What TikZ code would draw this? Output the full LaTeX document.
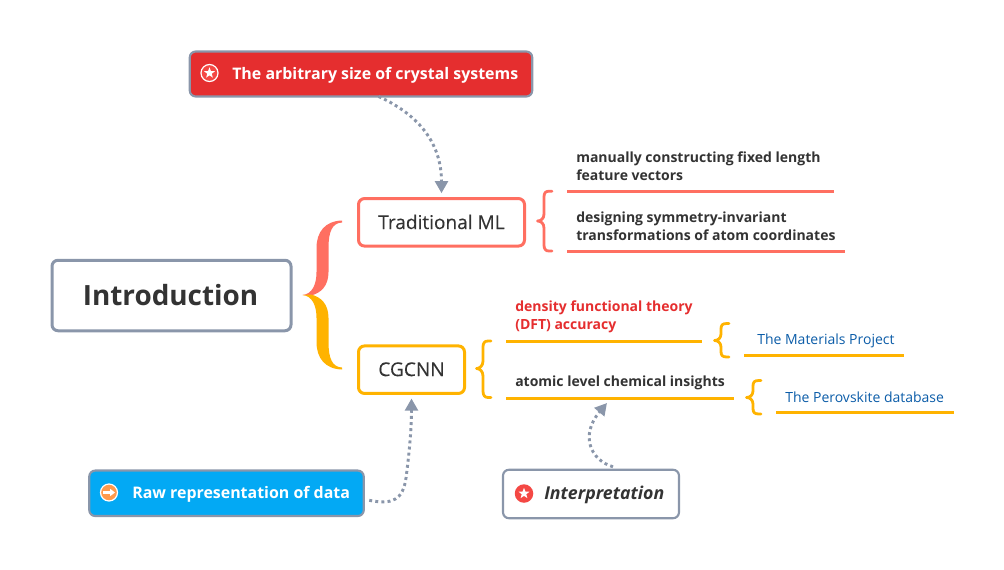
\documentclass[tikz,border=0pt]{standalone}
\usepackage{fontspec}
\setmainfont{Open Sans}
\newfontfamily\medfont[FakeBold=0.25]{Open Sans}
\usetikzlibrary{arrows.meta,shapes.geometric}
\definecolor{slateb}{HTML}{8A96AA}
\definecolor{coral}{HTML}{FF6F61}
\definecolor{amber}{HTML}{FFB300}
\definecolor{redf}{HTML}{E52E2F}
\definecolor{bluef}{HTML}{03A9F4}
\definecolor{inkc}{HTML}{333333}
\definecolor{linkb}{HTML}{0B5CA8}
\definecolor{iconred}{HTML}{F44844}
\definecolor{iconorange}{HTML}{FF9A4D}
\def\px{0.75pt}
\tikzset{
 x=0.75pt,y=-0.75pt,
 boxn/.style={draw,rounded corners=4.5pt,line width=2.25pt,inner sep=0pt,outer sep=0pt,anchor=center,text=inkc},
 thinbox/.style={boxn,line width=1.6pt},
 labeltxt/.style={font=\fontsize{10.5}{13.5}\selectfont\bfseries,text=inkc,anchor=west,align=left,inner sep=0pt},
 linktxt/.style={font=\fontsize{10.5}{13.5}\selectfont,text=linkb,anchor=west,inner sep=0pt},
 dots/.style={draw=slateb,line width=2.2pt,dash pattern=on 2.2pt off 2.4pt,-{Triangle[length=9pt,width=9.5pt,fill=slateb]}},
 ul/.style={line width=2.25pt},
 brace/.style={line width=2.1pt,line join=round,line cap=round},
 icondisc/.style={circle,inner sep=0pt,outer sep=0pt,minimum size=17*\px},
 iconstar/.style={star,star points=5,star point ratio=2.4,fill=white,draw=none,inner sep=0pt,outer sep=0pt,minimum size=11.5*\px}
}
\begin{document}
\begin{tikzpicture}
\useasboundingbox (0,0) rectangle (1004,569);
% big brace
\fill[coral] (342,220.5) .. controls (325,221) and (316.5,232) .. (316.5,248) -- (316.5,272)
  .. controls (316.5,285) and (312,294) .. (302.5,295) -- (311,295.5)
  .. controls (321,293) and (328.5,286) .. (328.5,272) -- (328.5,248)
  .. controls (328.5,232) and (332,223) .. (342,222.5) -- cycle;
\fill[amber] (342,369.5) .. controls (325,369) and (316.5,358) .. (316.5,342) -- (316.5,318)
  .. controls (316.5,305) and (312,296) .. (302.5,295) -- (311,294.5)
  .. controls (321,297) and (328.5,304) .. (328.5,318) -- (328.5,342)
  .. controls (328.5,358) and (332,367) .. (342,367.5) -- cycle;
% small braces
\draw[brace,coral] (552,191.2) -- (549,191.2) .. controls (545.5,191.2) and (544,193) .. (544,197) -- (544,214)
  .. controls (544,218.5) and (541,221) .. (537.5,221) .. controls (541,221) and (544,223.5) .. (544,228) -- (544,245)
  .. controls (544,249) and (545.5,251) .. (549,251) -- (552,251);
\draw[brace,amber] (491,341) -- (488,341) .. controls (484.5,341) and (483,343) .. (483,347) -- (483,361)
  .. controls (483,365.5) and (480,368.5) .. (476.5,368.5) .. controls (480,368.5) and (483,371.5) .. (483,376) -- (483,391)
  .. controls (483,395) and (484.5,397.5) .. (488,397.5) -- (491,397.5);
\draw[brace,amber] (729,323.5) -- (727,323.5) .. controls (722.5,323.5) and (721,325) .. (721,329) -- (721,334)
  .. controls (721,338) and (718,340.5) .. (714.5,340.5) .. controls (718,340.5) and (721,343) .. (721,347) -- (721,351.5)
  .. controls (721,355.5) and (722.5,357) .. (727,357) -- (729,357);
\draw[brace,amber] (761,380.5) -- (759,380.5) .. controls (754.5,380.5) and (753,382) .. (753,386) -- (753,391)
  .. controls (753,395) and (750,397.5) .. (746.5,397.5) .. controls (750,397.5) and (753,400) .. (753,404) -- (753,408.5)
  .. controls (753,412.5) and (754.5,414) .. (759,414) -- (761,414);
% underlines
\draw[ul,coral] (567,191) -- (834,191);
\draw[ul,coral] (567,251) -- (845,251);
\draw[ul,amber] (506,341) -- (702,341);
\draw[ul,amber] (506,398) -- (734,398);
\draw[ul,amber] (744,355) -- (904,355);
\draw[ul,amber] (776,412) -- (954,412);
% boxes
\node[boxn,draw=slateb,fill=white,minimum width=239*\px,minimum height=70.5*\px,font=\fontsize{20.9}{25}\selectfont\bfseries] (intro) at (171.5,295.5) {\raisebox{0.5pt}{\hspace{-1.5pt}Introduction}};
\node[thinbox,draw=slateb,fill=redf,minimum width=342.5*\px,minimum height=45*\px] (topbox) at (361,74) {};
\node[boxn,draw=coral,fill=white,minimum width=166*\px,minimum height=47.5*\px,font=\fontsize{14.3}{17}\selectfont\medfont] (tradml) at (441.5,222.3) {\raisebox{0.8pt}{Traditional ML}};
\node[boxn,draw=amber,fill=white,minimum width=106*\px,minimum height=47.5*\px,font=\fontsize{14.3}{17}\selectfont\medfont] (cgcnn) at (411.5,369.7) {\raisebox{0.8pt}{CGCNN}};
\node[thinbox,draw=slateb,fill=bluef,minimum width=274.5*\px,minimum height=45.5*\px] (rawbox) at (226.5,493.3) {};
\node[thinbox,draw=slateb,fill=white,minimum width=176*\px,minimum height=48.5*\px] (interp) at (591,494) {};
% box texts
\node[labeltxt,font=\fontsize{11.95}{14}\selectfont\bfseries,text=white] (toptxt) at (232,75) {The arbitrary size of crystal systems};
\node[labeltxt,font=\fontsize{11.95}{14}\selectfont\bfseries,text=white] (rawtxt) at (132,494) {Raw representation of data};
\node[labeltxt,font=\fontsize{13.3}{15}\selectfont\bfseries\itshape] (inttxt) at (544,495) {Interpretation};
% icons
\node[icondisc,fill=iconred,draw=white,line width=0.9pt] (topicon) at (209.5,73) {};
\node[iconstar] (topstar) at (209.5,73) {};
\node[icondisc,fill=iconorange,draw=white,line width=0.9pt] (rawicon) at (109,492.5) {};
\node[icondisc,fill=iconred,minimum size=18.5*\px] (inticon) at (524,493.5) {};
\node[iconstar] (intstar) at (524,493.5) {};
\draw[white,line width=1.6pt,-{Triangle[length=3.6pt,width=5.2pt]}] ([shift={(-6,0)}]rawicon.center) -- ([shift={(6,0)}]rawicon.center);
% labels
\node[labeltxt] (l1) at (576,166) {manually constructing fixed length\\feature vectors};
\node[labeltxt] (l2) at (576,226) {designing symmetry-invariant\\transformations of atom coordinates};
\node[labeltxt,text=redf] (l3) at (515,316.5) {density functional theory\\(DFT) accuracy};
\node[labeltxt] (l4) at (515,382.5) {atomic level chemical insights};
\node[linktxt] (l5) at (757,340.5) {The Materials Project};
\node[linktxt] (l6) at (785,397.5) {The Perovskite database};
% connectors
\coordinate (insightmark) at (607,403);
\draw[dots,shorten >=4pt] (topbox.-52) .. controls (415,113) and (441.5,140) .. (tradml.north);
\draw[dots,shorten >=3.8pt] ([shift={(5.5,7)}]rawbox.east) .. controls (392,505) and (403,500) .. (406,478)
  .. controls (409,455) and (411.5,430) .. (cgcnn.south);
\draw[dots] ([shift={(22,-3)}]interp.north) .. controls (590,460) and (580,435) .. (insightmark);
\end{tikzpicture}
\end{document}
